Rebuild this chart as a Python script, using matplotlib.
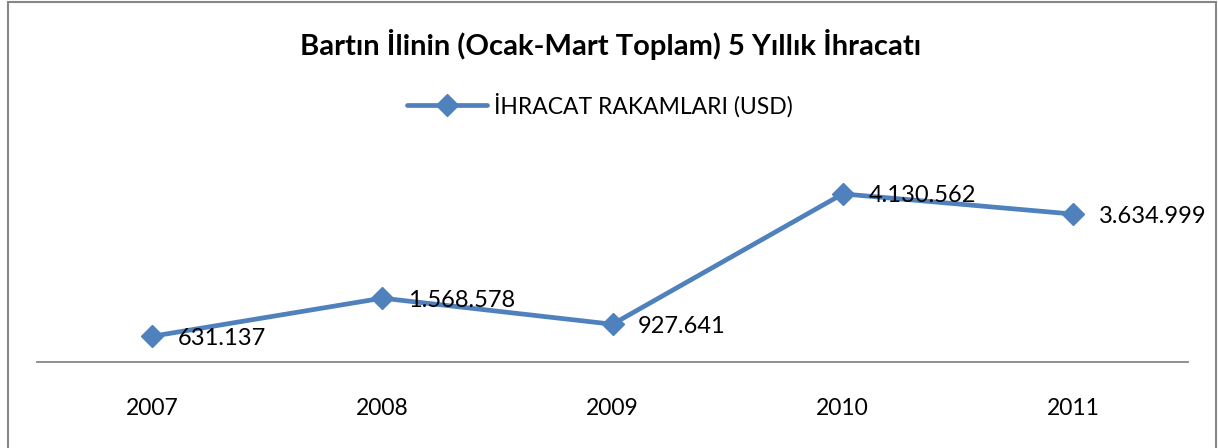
import matplotlib.pyplot as plt
from matplotlib.patches import Rectangle

# veriler
yillar = ['2007', '2008', '2009', '2010', '2011']
ihracat = [631137, 1568578, 927641, 4130562, 3634999]
etiketler = ['631.137', '1.568.578', '927.641', '4.130.562', '3.634.999']

plt.rcParams['font.family'] = ['Lato', 'DejaVu Sans']

W, H = 1218, 448
fig = plt.figure(figsize=(W / 100, H / 100), dpi=100)
ax = fig.add_axes([37 / W, 86 / H, (1188 - 37) / W, (362 - 158.5) / H])

renk = '#4F81BD'
x = list(range(len(yillar)))
ax.plot(x, ihracat, color=renk, lw=3.4, marker='D', ms=11.5,
        label='İHRACAT RAKAMLARI (USD)', solid_capstyle='round')

for xi, yi, et in zip(x, ihracat, etiketler):
    ax.annotate(et, (xi, yi), xytext=(18.5, -1.5), textcoords='offset points',
                ha='left', va='center', fontsize=17, color='black')

ax.set_xlim(-0.5, 4.5)
ax.set_ylim(0, 5000000)
ax.set_xticks(x)
ax.set_xticklabels(yillar, fontsize=16.5)
ax.set_yticks([])
ax.tick_params(axis='x', length=0, pad=26)
for s in ['top', 'right', 'left']:
    ax.spines[s].set_visible(False)
ax.spines['bottom'].set_color('#868686')
ax.spines['bottom'].set_linewidth(1.3)
ax.patch.set_alpha(0)

fig.text(611 / W, 1 - 45 / H, 'Bartın İlinin (Ocak-Mart Toplam) 5 Yıllık İhracatı',
         ha='center', va='center', fontsize=21, fontweight='bold')

ax.legend(loc='center', bbox_to_anchor=(600 / W, 1 - 105 / H),
          bbox_transform=fig.transFigure, frameon=False, fontsize=16.5,
          handlelength=3.5, handletextpad=0.3)

fig.patches.append(Rectangle((8 / W, -0.02), (1216 - 8) / W, 0.02 + 446 / H,
                             transform=fig.transFigure, fill=False,
                             edgecolor='#868686', lw=1.5))

fig.savefig('out.png', dpi=100)
